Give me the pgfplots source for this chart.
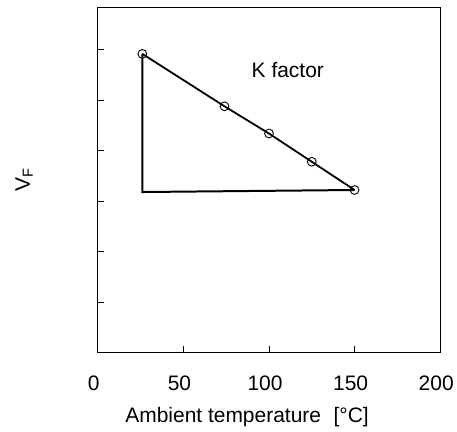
\documentclass[border=0pt]{standalone}
\usepackage{pgfplots}
\pgfplotsset{compat=1.18}
\usepackage{fontspec}
\setmainfont{Liberation Sans}

\begin{document}
\begin{tikzpicture}
  \begin{axis}[
      scale only axis,
      width=343pt, height=345pt,
      xmin=0, xmax=200,
      ymin=0, ymax=6.83,
      xtick={0,50,...,200},
      ytick={1,...,6},
      yticklabels={},
      tick align=inside,
      major tick length=6pt,
      xtick pos=bottom, ytick pos=left,
      axis line style={black, line width=1pt},
      tick style={black, line width=0.8pt},
      /pgf/number format/assume math mode=true,
      xticklabel style={font=\fontsize{21}{25}\selectfont, yshift=-20pt, xshift=-4pt},
      xlabel={Ambient temperature\hspace{0.6em}[°C]},
      xlabel style={font=\fontsize{21}{25}\selectfont, at={(axis description cs:0.436,-0.188)}, anchor=center},
      ylabel={V\textsubscript{F}},
      ylabel style={font=\fontsize{21}{25}\selectfont, at={(axis description cs:-0.215,0.50)}, anchor=center},
      clip=false,
    ]
    \coordinate (sw) at (rel axis cs:0,0);
    \addplot[black, line width=2pt] coordinates {(26,5.92) (26,3.18) (150,3.22)};
    \addplot[black, line width=1.8pt, mark=o, mark size=4.4pt,
      mark options={fill=white, line width=0.9pt}]
      coordinates {(26,5.92) (74,4.88) (100,4.34) (125,3.78) (150,3.22)};
    \node[font=\fontsize{21}{25}\selectfont] at (axis cs:111,5.6) {K factor};
  \end{axis}
  \path (sw) ++(-98pt,-79pt) rectangle ++(457pt,432pt);
\end{tikzpicture}
\end{document}
